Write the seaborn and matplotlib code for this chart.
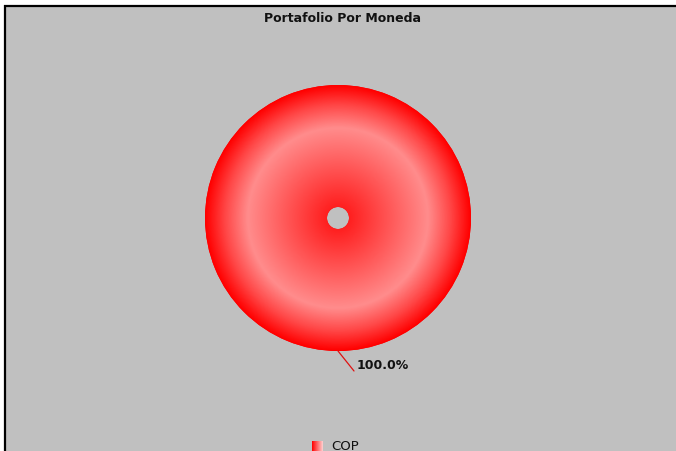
import numpy as np
import matplotlib
matplotlib.use('Agg')
import matplotlib.pyplot as plt
import seaborn as sns
from matplotlib.colors import LinearSegmentedColormap

# Data
labels = ['COP']
values = [100.0]
title = 'Portafolio Por Moneda'

sns.set_theme(style='white')
plt.rcParams['font.family'] = ['DejaVu Sans']

W, H = 676, 452
fig = plt.figure(figsize=(W / 100, H / 100), dpi=100)
fig.patch.set_facecolor('white')
fig.patch.set_edgecolor('white')

# Axes in pixel coordinates
ax = fig.add_axes([0, 0, 1, 1])
cx, cy, R, hole = 338, 219, 133, 11

wedges, _ = ax.pie(values, center=(cx, cy), radius=R, startangle=-90,
                   colors=['red'], frame=True,
                   wedgeprops=dict(width=R - hole, linewidth=0))
ax.set_xlim(0, W)
ax.set_ylim(H, 0)
ax.set_axis_off()

# grey panel with black top / left edge
ax.add_patch(plt.Rectangle((4, 6), W, H, facecolor='#c0c0c0',
                           edgecolor='none', zorder=0))
ax.plot([4, W], [6.5, 6.5], color='black', lw=1.6, zorder=1,
        solid_capstyle='butt')
ax.plot([4.5, 4.5], [6, H], color='black', lw=1.6, zorder=1,
        solid_capstyle='butt')

# Radial gradient fill clipped to the wedge
cmap = LinearSegmentedColormap.from_list('ring', [
    (0.0, (1.0, 0.08, 0.08)),
    (0.08, (1.0, 0.12, 0.12)),
    (0.68, (1.0, 0.55, 0.55)),
    (0.85, (1.0, 0.28, 0.28)),
    (1.0, (1.0, 0.0, 0.0)),
])
yy, xx = np.mgrid[cy - R:cy + R:400j, cx - R:cx + R:400j]
rr = np.hypot(xx - cx, yy - cy) / R
img = ax.imshow(np.clip(rr, 0, 1), cmap=cmap, vmin=0, vmax=1,
                extent=(cx - R, cx + R, cy + R, cy - R),
                interpolation='bilinear', zorder=2)
img.set_clip_path(wedges[0])

# Leader line and percentage label
for w, v in zip(wedges, values):
    ang = np.deg2rad((w.theta1 + w.theta2) / 2)
    x0, y0 = cx + R * np.cos(ang), cy + R * np.sin(ang)
    x1, y1 = x0 + 16, y0 + 20
    ax.plot([x0, x1], [y0, y1], color='#e01010', lw=0.9, zorder=3)
    ax.text(x1 + 3, y1 - 6, f'{v / sum(values) * 100:.1f}%', fontsize=9,
            fontweight='bold', color='#111111', ha='left', va='center',
            zorder=4)

ax.text(343, 19, title, fontsize=9, fontweight='bold', color='#111111',
        ha='center', va='center', zorder=4)

# Legend at bottom, with gradient swatch
lx, ly = 312, 442
for i, lab in enumerate(labels):
    grad = np.linspace(0, 1, 50).reshape(1, -1)
    scm = LinearSegmentedColormap.from_list('sw', ['red', '#ffd0d0'])
    ax.imshow(grad, cmap=scm, extent=(lx, lx + 11, ly + 10, ly),
              aspect='auto', zorder=3)
    ax.text(lx + 19, ly + 4.5, lab, fontsize=9.5, color='#111111',
            ha='left', va='center', zorder=4)
ax.set_xlim(0, W)
ax.set_ylim(H, 0)
ax.set_aspect('auto')

fig.savefig('out.png', dpi=100)
